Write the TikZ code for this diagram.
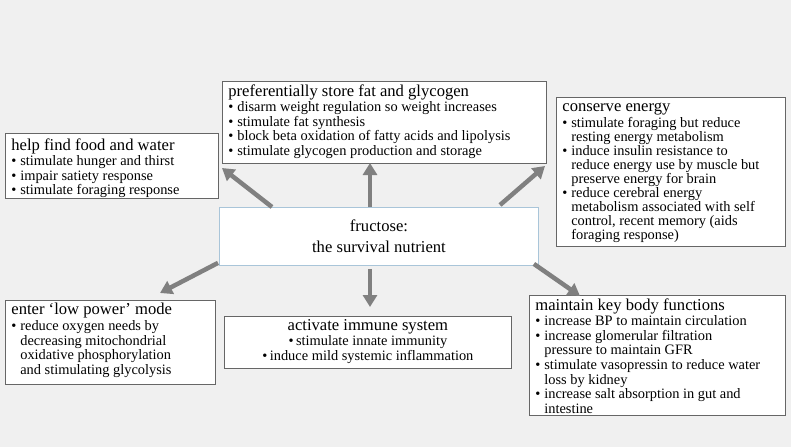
\documentclass[tikz,border=0pt]{standalone}
\usepackage{fontspec}
\setmainfont{Liberation Serif}
\usetikzlibrary{arrows.meta,calc}
\definecolor{bg}{HTML}{F0F0F0}
\definecolor{bord}{HTML}{666666}
\definecolor{cbord}{HTML}{A9C5D9}
\definecolor{arrc}{HTML}{808080}
\newlength{\bskip}\setlength{\bskip}{14.6pt}
\newcommand{\hd}[1]{{\fontsize{16.6}{18}\selectfont #1\par}\vspace{1pt}}
\newcommand{\bitem}[1]{{\fontsize{14.4}{\bskip}\selectfont\hangindent=0.62em\hangafter=1\noindent\makebox[0.62em][l]{•}#1\par}}
\newcommand{\citem}[1]{{\fontsize{14.4}{\bskip}\selectfont •\,#1\par}}
\tikzset{
  box/.style={draw=bord, line width=0.8pt, fill=white, inner xsep=6pt, inner ysep=3pt, anchor=north west},
  cbox/.style={draw=cbord, line width=0.9pt, fill=white, anchor=north west, minimum width=319pt, minimum height=58pt, align=center, font=\fontsize{16.6}{21}\selectfont},
  arr/.style={draw=arrc, line width=4.5pt, -{Triangle[width=14pt,length=12pt]}}
}
\begin{document}
\begin{tikzpicture}[x=1pt,y=-1pt]
\fill[bg] (0,0) rectangle (791,447);
\useasboundingbox (0,0) rectangle (791,447);

\node[cbox] (c) at (219,207) {fructose:\\the survival nutrient};

\node[box] (food) at (5,133) {\parbox[t][59pt][t]{201pt}{\vspace*{2pt}
\hd{help find food and water}
\bitem{stimulate hunger and thirst}
\bitem{impair satiety response}
\bitem{stimulate foraging response}}};

\node[box] (store) at (222,81) {\parbox[t][76pt][t]{312pt}{
\hd{preferentially store fat and glycogen}
\bitem{disarm weight regulation so weight increases}
\bitem{stimulate fat synthesis}
\bitem{block beta oxidation of fatty acids and lipolysis}
\bitem{stimulate glycogen production and storage}}};

\node[box] (cons) at (556,97) {\parbox[t][143pt][t]{217pt}{\setlength{\bskip}{14.1pt}\vspace*{3pt}
\hd{conserve energy}
\bitem{stimulate foraging but reduce\newline resting energy metabolism}
\bitem{induce insulin resistance to\newline reduce energy use by muscle but\newline preserve energy for brain}
\bitem{reduce cerebral energy\newline metabolism associated with self\newline control, recent memory (aids\newline foraging response)}}};

\node[box] (low) at (5,300) {\parbox[t][78pt][t]{198pt}{
\hd{enter ‘low power’ mode}
\bitem{reduce oxygen needs by\newline decreasing mitochondrial\newline oxidative phosphorylation\newline and stimulating glycolysis}}};

\node[box] (imm) at (224,316) {\parbox[t][46pt][t]{275pt}{\centering
\hd{activate immune system}
\citem{stimulate innate immunity}
\citem{induce mild systemic inflammation}}};

\node[box] (main) at (529,295) {\parbox[t][114pt][t]{244pt}{
\hd{maintain key body functions}
\bitem{increase BP to maintain circulation}
\bitem{increase glomerular filtration\newline pressure to maintain GFR}
\bitem{stimulate vasopressin to reduce water\newline loss by kidney}
\bitem{increase salt absorption in gut and\newline intestine}}};

\coordinate (t1) at (222,168);
\coordinate (t2) at (370,163);
\coordinate (t3) at (545,166);
\coordinate (t4) at (160,293);
\coordinate (t5) at (370,307);
\coordinate (t6) at (580,296);

\draw[arr] ($(c.north west)+(53,0)$) -- (t1);
\draw[arr] ($(c.north west)+(151,0)$) -- (t2);
\draw[arr] ($(c.north west)+(281,-2)$) -- (t3);
\draw[arr] ($(c.south west)+(-1,-3)$) -- (t4);
\draw[arr] ($(c.south west)+(151,3)$) -- (t5);
\draw[arr] ($(c.south east)+(-5,-2)$) -- (t6);
\end{tikzpicture}
\end{document}
